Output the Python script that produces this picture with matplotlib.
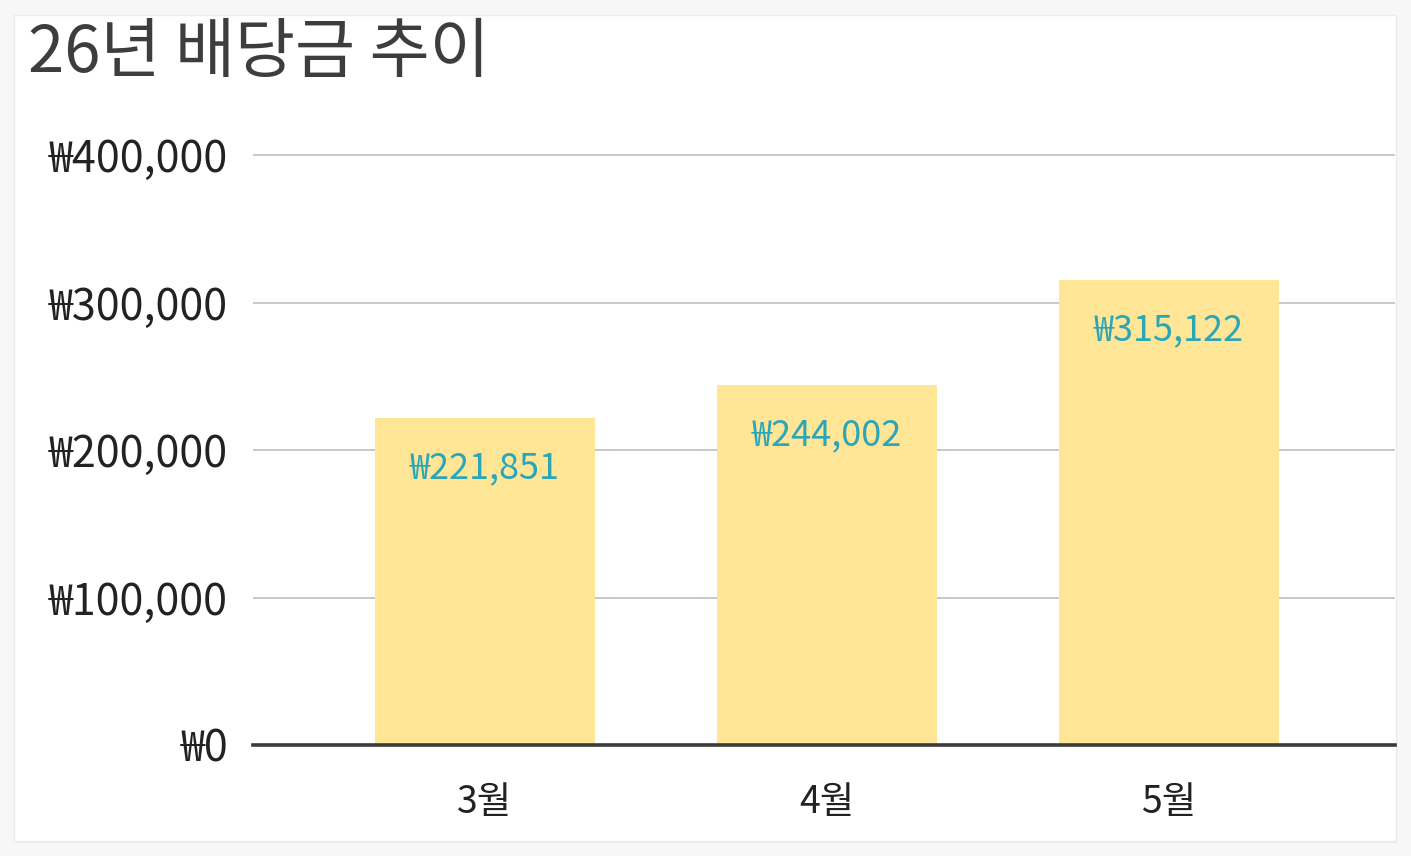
import matplotlib
matplotlib.use("Agg")
import matplotlib.pyplot as plt
from matplotlib.patches import Rectangle
from matplotlib.ticker import FuncFormatter, FixedLocator

# ---- data ----
title = "26년 배당금 추이"
categories = ["3월", "4월", "5월"]
values = [221851, 244002, 315122]
yticks = [0, 100000, 200000, 300000, 400000]

FAM = ["Noto Sans CJK KR", "DejaVu Sans"]
plt.rcParams["font.family"] = FAM

W, H = 1411, 856
fig = plt.figure(figsize=(W / 100, H / 100), dpi=100, facecolor="#f7f7f7")

# card background
fig.patches.append(Rectangle((16 / W, 1 - 843 / H), (1396 - 16) / W, (843 - 16) / H,
                             transform=fig.transFigure, facecolor="#e9e9e9",
                             edgecolor="none", zorder=-2))
fig.patches.append(Rectangle((14 / W, 1 - 841 / H), (1396 - 14) / W, (841 - 15) / H,
                             transform=fig.transFigure, facecolor="white",
                             edgecolor="#ececec", linewidth=1, zorder=-1))

ymax = 410000
px_per_unit = 590 / 400000
ax_h_px = ymax * px_per_unit
ax = fig.add_axes([253 / W, (H - 745) / H, (1395 - 253) / W, ax_h_px / H])
ax.set_facecolor("none")

x = list(range(len(categories)))
bars = ax.bar(x, values, width=0.643, color="#ffe596", zorder=2)

for xi, v in zip(x, values):
    ax.annotate(f"₩{v:,}", (xi, v), xytext=(0, -50), textcoords="offset pixels",
                ha="center", va="center", fontsize=26, color="#2ba6b9",
                family=FAM, fontweight="light", zorder=3)

ax.set_xlim(-0.678, 2.661)
ax.set_ylim(0, ymax)
ax.yaxis.set_major_locator(FixedLocator(yticks))
ax.yaxis.set_major_formatter(FuncFormatter(lambda v, p: f"₩{int(v):,}"))
ax.set_xticks(x)
ax.set_xticklabels(categories)

ax.grid(axis="y", color="#c4c4c4", linewidth=1.3, zorder=1)
ax.set_axisbelow(True)
for s in ["top", "right", "left"]:
    ax.spines[s].set_visible(False)
ax.spines["bottom"].set_color("#3a3a3a")
ax.spines["bottom"].set_linewidth(2.6)
ax.spines["bottom"].set_zorder(4)

ax.tick_params(axis="y", length=0, pad=18, labelsize=31, labelcolor="#222222")
ax.tick_params(axis="x", length=0, pad=27, labelsize=27, labelcolor="#222222")

fig.text(28 / W, 1 - 54 / H, title, ha="left", va="center", fontsize=47,
         color="#3d3d3d", family=FAM, fontweight="light")

fig.savefig("out.png", dpi=100, facecolor=fig.get_facecolor())
